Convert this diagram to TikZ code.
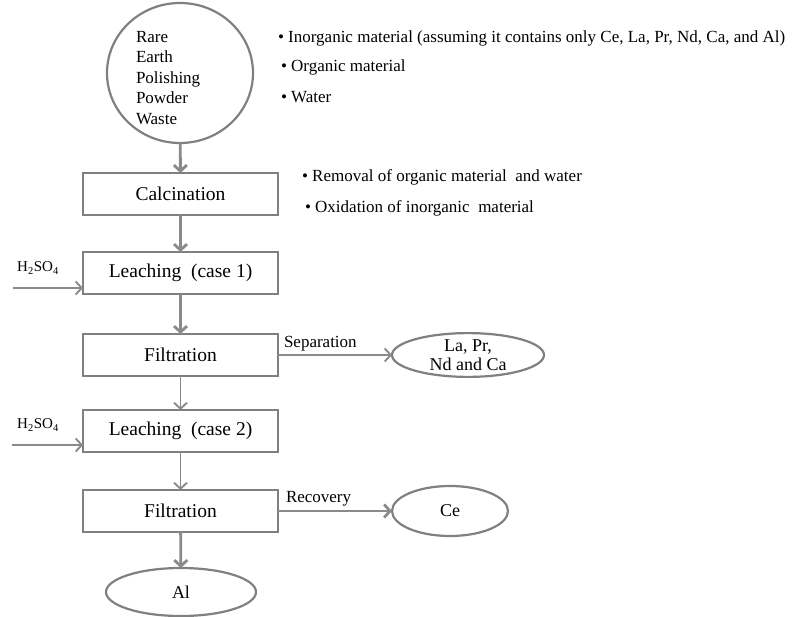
\documentclass[tikz,border=0pt]{standalone}
\usepackage{fontspec}
\setmainfont{Liberation Serif}
\usetikzlibrary{arrows.meta,shapes.geometric}
\definecolor{boxgray}{HTML}{808080}
\definecolor{linegray}{HTML}{8A8A8A}
\begin{document}
\begin{tikzpicture}[x=1pt,y=-1pt,
  every node/.style={inner sep=0pt, outer sep=0pt},
  procbox/.style={draw=boxgray, line width=2.6pt, minimum width=195pt, minimum height=42pt, font=\fontsize{19.5}{22}\selectfont},
  oval/.style={draw=boxgray, line width=2.2pt, ellipse, font=\fontsize{18}{21}\selectfont, align=center},
  note/.style={anchor=west, font=\fontsize{17}{20}\selectfont},
  thick arrow/.style={draw=linegray, line width=2.8pt, -{Straight Barb[length=6pt,width=13pt]}},
  thin arrow/.style={draw=linegray, line width=1.9pt, -{Straight Barb[length=6pt,width=13pt]}},
  small/.style={font=\fontsize{15}{18}\selectfont}
]
\useasboundingbox (0,0) rectangle (808,617);

% source circle
\node[draw=boxgray, line width=2.2pt, ellipse, minimum width=146pt, minimum height=140pt] (src) at (180,73) {};
\node[anchor=north west, align=left, font=\fontsize{17}{20.5}\selectfont] (srctext) at (136,31) {Rare\\Earth\\Polishing\\Powder\\Waste};

% bullet notes
\node[note] (n1) at (278,38) {\textbullet\ Inorganic material (assuming it contains only Ce, La, Pr, Nd, Ca, and Al)};
\node[note] (n2) at (281,67) {\textbullet\ Organic material};
\node[note] (n3) at (281,97) {\textbullet\ Water};

% process boxes
\node[procbox] (calc) at (180.5,194) {Calcination};
\node[procbox] (leach1) at (180.5,273) {Leaching\ \ (case 1)};
\node[procbox] (filt1) at (180.5,355) {Filtration};
\node[procbox] (leach2) at (180.5,431) {Leaching\ \ (case 2)};
\node[procbox] (filt2) at (180.5,511) {Filtration};

\node[note] (n4) at (302,177) {\textbullet\ Removal of organic material\ \ and water};
\node[note] (n5) at (305,208) {\textbullet\ Oxidation of inorganic\ \ material};

% output ovals
\node[oval, minimum width=152pt, minimum height=40pt] (lapr) at (468,355) {La, Pr,\\[-2pt]Nd and Ca};
\node[oval, minimum width=116pt, minimum height=50pt] (ce) at (450,511) {Ce};
\node[oval, minimum width=150pt, minimum height=48pt] (al) at (181,592) {Al};

% main flow
\draw[thick arrow] (src) -- (calc);
\draw[thick arrow] (calc) -- (leach1);
\draw[thick arrow] (leach1) -- (filt1);
\draw[thin arrow] (filt1) -- (leach2);
\draw[thin arrow] (leach2) -- (filt2);
\draw[thick arrow] (filt2) -- (al);

% side flows
\draw[thin arrow] (filt1.east) -- (lapr.west);
\node[anchor=south west, font=\fontsize{17}{20}\selectfont] (sep) at (284,351) {Separation};
\draw[thick arrow] (filt2.east) -- (ce.west);
\node[anchor=south west, font=\fontsize{17}{20}\selectfont] (rec) at (286,506) {Recovery};

% acid inputs
\coordinate (a1) at (13,288);
\coordinate (a2) at (12,445);
\draw[thin arrow] (a1) -- (a1 -| leach1.west);
\draw[thin arrow] (a2) -- (a2 -| leach2.west);
\node[small] (h1) at (38,268) {H\textsubscript{2}SO\textsubscript{4}};
\node[small] (h2) at (38,425) {H\textsubscript{2}SO\textsubscript{4}};
\end{tikzpicture}
\end{document}
